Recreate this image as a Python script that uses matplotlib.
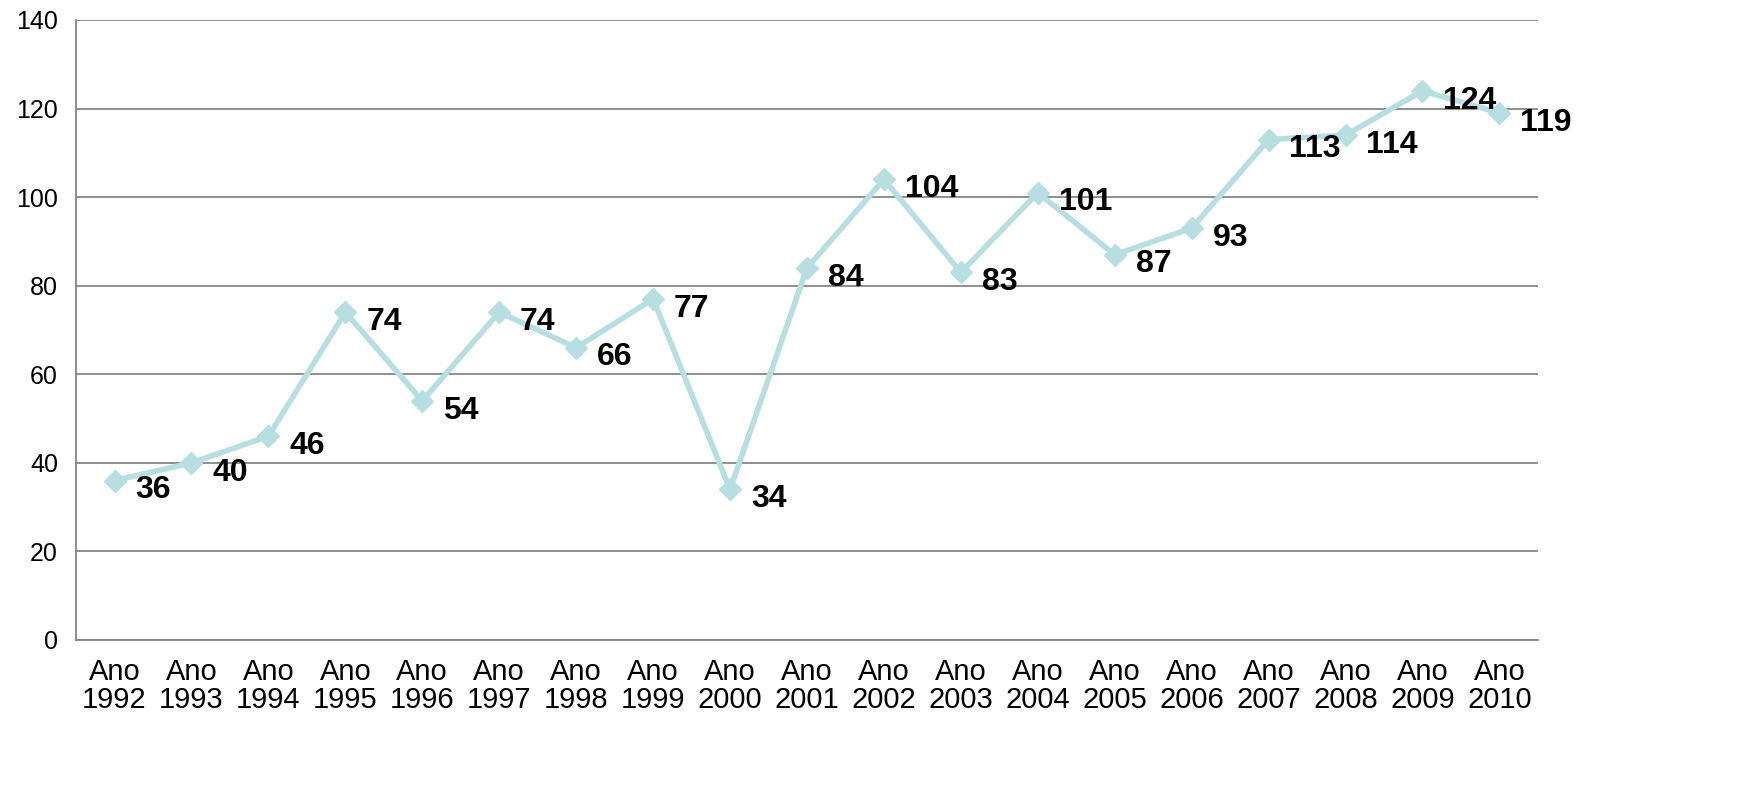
import matplotlib.pyplot as plt

plt.rcParams['font.family'] = ['Liberation Sans', 'DejaVu Sans']

anos = ["1992", "1993", "1994", "1995", "1996", "1997", "1998", "1999", "2000", "2001",
        "2002", "2003", "2004", "2005", "2006", "2007", "2008", "2009", "2010"]
valores = [36, 40, 46, 74, 54, 74, 66, 77, 34, 84, 104, 83, 101, 87, 93, 113, 114, 124, 119]
etiquetas = ["Ano\n" + a for a in anos]

fig = plt.figure(figsize=(17.57, 7.99), dpi=100)
ax = fig.add_axes([0.0433, 0.199, 0.832, 0.776])

x = list(range(len(valores)))
ax.plot(x, valores, color="#B7DEE1", linewidth=4, marker="D", markersize=11,
        markerfacecolor="#B7DEE1", markeredgecolor="#B7DEE1", zorder=3)

# Etiquetas de datos a la derecha de cada punto
for xi, v in zip(x, valores):
    ax.annotate(str(v), (xi, v), xytext=(15, -7), textcoords="offset points",
                ha="left", va="center", fontsize=23, fontweight="bold", color="black")

ax.set_xlim(-0.5, len(valores) - 0.5)
ax.set_ylim(0, 140)
ax.set_yticks(range(0, 141, 20))
ax.set_xticks(x)
ax.set_xticklabels(etiquetas, fontsize=21, linespacing=1.0)
ax.tick_params(axis="y", labelsize=18, length=0, pad=13)
ax.tick_params(axis="x", length=0, pad=13)

ax.yaxis.grid(True, color="#868686", linewidth=1.3)
ax.set_axisbelow(True)
for lado in ["top", "right"]:
    ax.spines[lado].set_visible(False)
for lado in ["left", "bottom"]:
    ax.spines[lado].set_color("#868686")
    ax.spines[lado].set_linewidth(1.3)

fig.savefig("out.png", dpi=100)
